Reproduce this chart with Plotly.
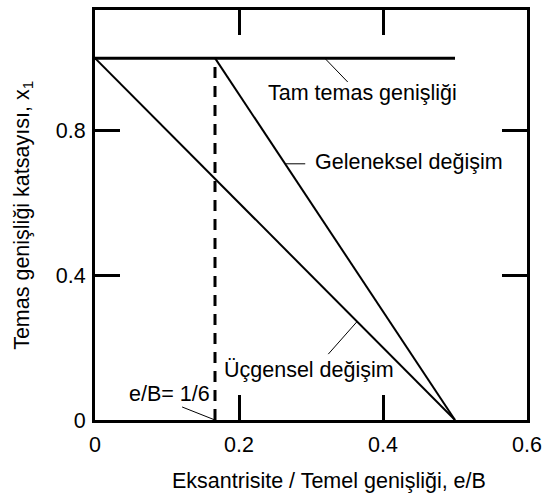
import plotly.graph_objects as go

# Eccentricity ratio e/B and contact width coefficient x1
full_eb = [0.0, 0.5]
full_x1 = [1.0, 1.0]

conventional_eb = [1 / 6, 0.5]
conventional_x1 = [1.0, 0.0]

triangular_eb = [0.0, 0.5]
triangular_x1 = [1.0, 0.0]

kern_eb = [1 / 6, 1 / 6]
kern_x1 = [0.0, 1.0]

x_ticks = [0, 0.2, 0.4, 0.6]
x_tick_text = ["0", "0.2", "0.4", "0.6"]
y_ticks = [0, 0.4, 0.8]
y_tick_text = ["0", "0.4", "0.8"]

FONT = "Liberation Sans, Arial, sans-serif"
FS = 21.5

fig = go.Figure()
fig.add_trace(go.Scatter(x=full_eb, y=full_x1, mode="lines",
                         line=dict(color="black", width=3), hoverinfo="skip"))
fig.add_trace(go.Scatter(x=conventional_eb, y=conventional_x1, mode="lines",
                         line=dict(color="black", width=2), hoverinfo="skip"))
fig.add_trace(go.Scatter(x=triangular_eb, y=triangular_x1, mode="lines",
                         line=dict(color="black", width=2), hoverinfo="skip"))
fig.add_trace(go.Scatter(x=kern_eb, y=kern_x1, mode="lines",
                         line=dict(color="black", width=3, dash="11px,8px"),
                         hoverinfo="skip"))

# Leader lines from labels to curves
leaders = [
    ((0.319, 1.0), (0.351, 0.934)),
    ((0.265, 0.708), (0.292, 0.708)),
    ((0.364, 0.272), (0.324, 0.182)),
    ((1 / 6, 0.0), (0.121, 0.036)),
]
for (x0, y0), (x1, y1) in leaders:
    fig.add_shape(type="line", xref="x", yref="y", x0=x0, y0=y0, x1=x1, y1=y1,
                  line=dict(color="black", width=1))

labels = [
    ("Tam temas genişliği", 0.237, 0.903),
    ("Geleneksel değişim", 0.303, 0.712),
    ("Üçgensel değişim", 0.176, 0.138),
    ("e/B= 1/6", 0.044, 0.072),
]
for text, x, y in labels:
    fig.add_annotation(text=text, x=x, y=y, xref="x", yref="y",
                       xanchor="left", yanchor="middle", showarrow=False,
                       font=dict(family=FONT, size=FS, color="black"))

fig.add_annotation(text="Eksantrisite / Temel genişliği, e/B",
                   x=0.542, y=-0.149, xref="paper", yref="paper",
                   xanchor="center", yanchor="middle", showarrow=False,
                   font=dict(family=FONT, size=FS, color="black"))
fig.add_annotation(text="Temas genişliği katsayısı, x<sub>1</sub>",
                   x=-0.167, y=0.5, xref="paper", yref="paper",
                   xanchor="center", yanchor="middle", textangle=-90,
                   showarrow=False,
                   font=dict(family=FONT, size=FS, color="black"))

axis_common = dict(
    showline=True, linecolor="black", linewidth=3, mirror="ticks",
    ticks="inside", ticklen=25, tickwidth=3, tickcolor="black",
    showgrid=False, zeroline=False, automargin=False,
    tickfont=dict(family=FONT, size=FS, color="black"),
)
fig.update_xaxes(range=[0, 0.6], tickvals=x_ticks, ticktext=x_tick_text,
                 ticklabelstandoff=3, **axis_common)
fig.update_yaxes(range=[0, 1.133], tickvals=y_ticks, ticktext=y_tick_text,
                 ticklabelstandoff=2, **axis_common)

fig.update_layout(
    width=542, height=501,
    margin=dict(l=95, r=15, t=10, b=81, autoexpand=False),
    paper_bgcolor="white", plot_bgcolor="white",
    showlegend=False,
    font=dict(family=FONT, size=FS, color="black"),
)

fig.write_html("out.html")
